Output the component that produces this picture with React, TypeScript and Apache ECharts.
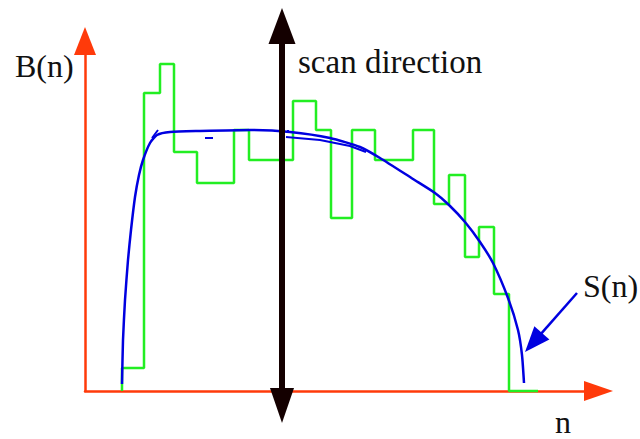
import React, { useEffect, useRef } from "react";
import * as echarts from "echarts";

// n positions where the histogram B(n) changes level, and the level held between consecutive edges
const stepEdges = [37, 59, 75, 89, 112, 149, 164, 208, 231, 246, 267, 290, 328, 349, 364, 380, 394, 409, 424, 453];
const stepLevels = [23, 298, 327, 239, 208, 261, 231, 290, 261, 173, 261, 231, 261, 187, 216, 134, 164, 97, 0];

// Smooth envelope S(n)
const envelopeN = [37, 38, 40, 43, 46, 50, 54, 58, 65, 72, 85, 115, 165, 205, 245, 275, 295, 328, 350, 364, 380, 395, 408, 423, 433, 437, 439];
const envelopeS = [7, 51, 91, 131, 161, 194, 216, 231, 248, 256, 259, 260, 261, 259, 253, 244, 233, 212, 198, 186, 169, 149, 128, 93, 61, 36, 8];

// Loose pen strokes around the envelope
const penStrokes = [
  [[67, 253], [73, 261]],
  [[120, 253], [128, 253]],
  [[202, 260], [204, 260]],
  [[201, 254], [235, 251], [265, 245], [281, 239]],
];

// Annotation arrows: [start, end]
const scanArrow = [197, 383, 197, -32];
const pointerArrow = [492, 98, 440, 39];

// Text labels
const labels = ["B(n)", "scan direction", "S(n)", "n"];

const RED = "#ff3a0a";
const GREEN = "#22ee22";
const BLUE = "#0000e0";
const INK = "#140000";
const FONT = '"Liberation Serif", "Times New Roman", serif';

type Head = { len: number; half: number } | null;

function arrowRenderer(startHead: Head, endHead: Head, color: string, width: number) {
  return (_params: any, api: any) => {
    const p1 = api.coord([api.value(0), api.value(1)]);
    const p2 = api.coord([api.value(2), api.value(3)]);
    const dx = p2[0] - p1[0];
    const dy = p2[1] - p1[1];
    const len = Math.hypot(dx, dy);
    const ux = dx / len;
    const uy = dy / len;
    const px = -uy;
    const py = ux;
    let s = p1;
    let e = p2;
    const heads: any[] = [];
    if (startHead) {
      const bx = p1[0] + ux * startHead.len;
      const by = p1[1] + uy * startHead.len;
      s = [bx - ux * 2, by - uy * 2];
      heads.push({
        type: "polygon",
        shape: { points: [p1, [bx + px * startHead.half, by + py * startHead.half], [bx - px * startHead.half, by - py * startHead.half]] },
        style: { fill: color },
      });
    }
    if (endHead) {
      const bx = p2[0] - ux * endHead.len;
      const by = p2[1] - uy * endHead.len;
      e = [bx + ux * 2, by + uy * 2];
      heads.push({
        type: "polygon",
        shape: { points: [p2, [bx + px * endHead.half, by + py * endHead.half], [bx - px * endHead.half, by - py * endHead.half]] },
        style: { fill: color },
      });
    }
    const shaft = {
      type: "line",
      shape: { x1: s[0], y1: s[1], x2: e[0], y2: e[1] },
      style: { stroke: color, lineWidth: width },
    };
    return { type: "group", children: [shaft, ...heads] };
  };
}

export default function App() {
  const ref = useRef<HTMLDivElement>(null);

  useEffect(() => {
    if (!ref.current) return;
    const chart = echarts.init(ref.current, undefined, { renderer: "svg" });

    const stepPoints: number[][] = [[stepEdges[0], 0]];
    stepLevels.forEach((lv, i) => {
      stepPoints.push([stepEdges[i], lv]);
      stepPoints.push([stepEdges[i + 1], lv]);
    });

    const envelope = envelopeN.map((n, i) => [n, envelopeS[i]]);

    const strokeData: any[] = [];
    penStrokes.forEach((seg, i) => {
      if (i > 0) strokeData.push(["-", "-"]);
      seg.forEach((p) => strokeData.push(p));
    });

    const text = (t: string, x: number, y: number) => ({
      type: "text",
      x,
      y,
      silent: true,
      style: {
        text: t,
        fontFamily: FONT,
        fontSize: t === "scan direction" ? 33 : 32,
        fill: "#111",
        verticalAlign: "middle",
      },
    });

    chart.setOption({
      animation: false,
      backgroundColor: "#ffffff",
      grid: { left: 85, right: 41.5, top: 41, bottom: 48 },
      xAxis: {
        type: "value",
        min: 0,
        max: 513.5,
        axisLine: {
          show: true,
          symbol: ["none", "triangle"],
          symbolSize: [20, 29],
          lineStyle: { color: RED, width: 2.5 },
        },
        axisTick: { show: false },
        axisLabel: { show: false },
        splitLine: { show: false },
      },
      yAxis: {
        type: "value",
        min: 0,
        max: 350,
        axisLine: {
          show: true,
          symbol: ["none", "triangle"],
          symbolSize: [22, 28],
          lineStyle: { color: RED, width: 2.5 },
        },
        axisTick: { show: false },
        axisLabel: { show: false },
        splitLine: { show: false },
      },
      graphic: [
        text(labels[0], 15, 66),
        text(labels[1], 298, 62),
        text(labels[2], 583, 286),
        text(labels[3], 555, 422),
      ],
      series: [
        {
          name: "B(n)",
          type: "line",
          data: stepPoints,
          showSymbol: false,
          clip: false,
          lineStyle: { color: GREEN, width: 2.5 },
          z: 2,
        },
        {
          name: "S(n)",
          type: "line",
          data: envelope,
          smooth: 0.2,
          showSymbol: false,
          clip: false,
          lineStyle: { color: BLUE, width: 2.5 },
          z: 3,
        },
        {
          name: "strokes",
          type: "line",
          data: strokeData,
          connectNulls: false,
          showSymbol: false,
          clip: false,
          lineStyle: { color: BLUE, width: 2 },
          z: 3,
        },
        {
          name: "pointer",
          type: "custom",
          clip: false,
          data: [pointerArrow],
          encode: { x: [0, 2], y: [1, 3] },
          renderItem: arrowRenderer(null, { len: 25.5, half: 10 }, BLUE, 2.5),
          z: 4,
        },
        {
          name: "scan",
          type: "custom",
          clip: false,
          data: [scanArrow],
          encode: { x: [0, 2], y: [1, 3] },
          renderItem: arrowRenderer({ len: 36, half: 13.5 }, { len: 35, half: 12 }, INK, 6),
          z: 5,
        },
      ],
    });

    return () => chart.dispose();
  }, []);

  return (
    <div
      ref={ref}
      style={{ position: "fixed", left: 0, top: 0, width: 640, height: 439, background: "#fff" }}
    />
  );
}
